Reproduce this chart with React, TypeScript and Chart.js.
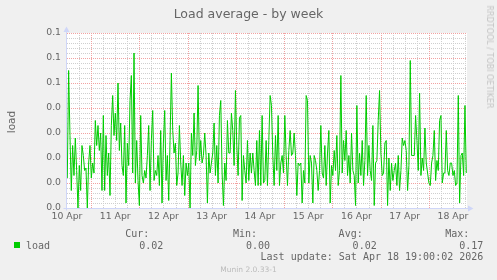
import React, { useEffect, useRef } from "react";
import { Chart, registerables } from "chart.js";

Chart.register(...registerables);

// ---------- text ----------
const TITLE = "Load average - by week";
const Y_AXIS_TITLE = "load";
const WATERMARK = "RRDTOOL / TOBI OETIKER";
const SERIES_NAME = "load";
const STAT_LABELS = ["Cur:", "Min:", "Avg:", "Max:"];
const STAT_VALUES = ["0.02", "0.00", "0.02", "0.17"];
const LAST_UPDATE = "Last update: Sat Apr 18 19:00:02 2026";
const FOOTER = "Munin 2.0.33-1";

// ---------- axes ----------
// x axis in hours since 10 Apr 00:00
const DAY_LABELS = ["10 Apr", "11 Apr", "12 Apr", "13 Apr", "14 Apr", "15 Apr", "16 Apr", "17 Apr", "18 Apr"];
const X_MIN_HOUR = 12;
const X_MAX_HOUR = 211;
const X_MINOR_STEP_HOURS = 6;
const X_MAJOR_STEP_HOURS = 24;
const FIRST_SAMPLE_HOUR = 12.15;
const LAST_SAMPLE_HOUR = 210.65;
const Y_MIN = 0;
const Y_MAX = 0.07;
const Y_MAJOR_STEP = 0.01;
const Y_MINOR_STEP = 0.002;
const Y_TICK_LABELS = ["0.0", "0.0", "0.0", "0.0", "0.0", "0.1", "0.1", "0.1"];

// ---------- data (load, regular samples) ----------
const LOAD_APR10_11 = [
  0.012, 0.055, 0.029, 0.007, 0.025, 0.013, 0.028, 0.015, 0.000, 0.017,
  0.007, 0.025, 0.021, 0.015, 0.016, 0.000, 0.018, 0.025, 0.012, 0.018,
  0.014, 0.035, 0.025, 0.033, 0.023, 0.030, 0.007, 0.037, 0.007, 0.029,
  0.013, 0.022, 0.005, 0.033, 0.045, 0.029, 0.038, 0.027, 0.050, 0.023,
  0.034, 0.017, 0.013, 0.033, 0.002, 0.026, 0.017, 0.043, 0.053, 0.014,
  0.062, 0.010, 0.027, 0.011, 0.001, 0.037,
];
const LOAD_APR12_13 = [
  0.013, 0.010, 0.015, 0.012, 0.021, 0.033, 0.007, 0.027, 0.039, 0.011,
  0.015, 0.013, 0.021, 0.009, 0.031, 0.002, 0.026, 0.039, 0.011, 0.021,
  0.003, 0.027, 0.054, 0.031, 0.022, 0.026, 0.009, 0.014, 0.033, 0.018,
  0.009, 0.021, 0.005, 0.018, 0.013, 0.018, 0.000, 0.030, 0.021, 0.038,
  0.017, 0.023, 0.049, 0.019, 0.027, 0.018, 0.021, 0.030, 0.021, 0.002,
  0.022, 0.014, 0.018, 0.022, 0.034, 0.013, 0.025, 0.010, 0.037,
];
const LOAD_APR13_15 = [
  0.043, 0.014, 0.001, 0.018, 0.011, 0.035, 0.022, 0.022, 0.038, 0.031,
  0.017, 0.047, 0.025, 0.013, 0.036, 0.037, 0.003, 0.021, 0.015, 0.010,
  0.027, 0.011, 0.022, 0.014, 0.022, 0.015, 0.009, 0.027, 0.009, 0.031,
  0.009, 0.037, 0.010, 0.011, 0.027, 0.009, 0.027, 0.045, 0.041, 0.021,
  0.009, 0.029, 0.015, 0.037, 0.009, 0.018, 0.021, 0.014, 0.037, 0.021,
  0.009, 0.023, 0.031, 0.021, 0.022, 0.030, 0.021, 0.005, 0.018, 0.017,
  0.018, 0.002, 0.015,
];
const LOAD_APR15_16 = [
  0.010, 0.045, 0.043, 0.010, 0.021, 0.018, 0.002, 0.021, 0.019, 0.015,
  0.007, 0.015, 0.033, 0.014, 0.012, 0.025, 0.009, 0.022, 0.031, 0.002,
  0.017, 0.013, 0.023, 0.015, 0.029, 0.009, 0.015, 0.053, 0.014, 0.027,
  0.019, 0.031, 0.013, 0.021, 0.010, 0.030, 0.015, 0.013, 0.001, 0.041,
  0.010, 0.022, 0.013, 0.027, 0.009, 0.019, 0.045, 0.013, 0.025, 0.015,
  0.011, 0.033, 0.001, 0.018, 0.019, 0.035, 0.047, 0.022, 0.013, 0.014,
  0.026,
];
const LOAD_APR17_18 = [
  0.027, 0.001, 0.020, 0.007, 0.018, 0.011, 0.015, 0.018, 0.009, 0.021,
  0.007, 0.015, 0.028, 0.025, 0.027, 0.023, 0.007, 0.017, 0.059, 0.021,
  0.021, 0.021, 0.037, 0.027, 0.015, 0.046, 0.013, 0.020, 0.015, 0.032,
  0.018, 0.014, 0.010, 0.009, 0.018, 0.021, 0.031, 0.011, 0.019, 0.015,
  0.035, 0.037, 0.010, 0.014, 0.014, 0.031, 0.015, 0.013, 0.018, 0.018,
  0.013, 0.015, 0.009, 0.010, 0.045, 0.002, 0.021, 0.022, 0.013, 0.041,
  0.014,
];
const LOAD = [...LOAD_APR10_11, ...LOAD_APR12_13, ...LOAD_APR13_15, ...LOAD_APR15_16, ...LOAD_APR17_18];

// ---------- styles ----------
const BACK = "#F0F0F0";
const CANVAS = "#FFFFFF";
const FONT_COLOR = "#666666";
const LINE_COLOR = "#00CC00";
const AXIS_COLOR = "#CFD6F8";
const GRID_MINOR = "#CFCFCF";
const GRID_MAJOR = "#F2A2A2";

const isMajorX = (v: number) => Math.round(v) % X_MAJOR_STEP_HOURS === 0;
const isMajorY = (v: number) =>
  Math.round(v / Y_MINOR_STEP) % Math.round(Y_MAJOR_STEP / Y_MINOR_STEP) === 0;

// rrdtool-like dotted grid, placed with the chart's own scales
const rrdGridPlugin = {
  id: "rrdGrid",
  beforeDraw(chart: any) {
    const { ctx, chartArea: a } = chart;
    ctx.save();
    ctx.fillStyle = CANVAS;
    ctx.fillRect(a.left, a.top, a.right - a.left, a.bottom - a.top);
    ctx.restore();
  },
  beforeDatasetsDraw(chart: any) {
    const { ctx, chartArea: a, scales } = chart;
    const L = Math.round(a.left), R = Math.round(a.right), T = Math.round(a.top), B = Math.round(a.bottom);
    ctx.save();
    const drawPass = (major: boolean) => {
      ctx.fillStyle = major ? GRID_MAJOR : GRID_MINOR;
      for (const t of scales.x.ticks) {
        if (isMajorX(t.value) !== major) continue;
        const px = Math.round(scales.x.getPixelForValue(t.value));
        if (px <= L) continue;
        for (let y = T; y < B; y += 2) ctx.fillRect(px, y, 1, 1);
      }
      for (const t of scales.y.ticks) {
        if (isMajorY(t.value) !== major) continue;
        const py = Math.round(scales.y.getPixelForValue(t.value));
        if (py >= B) continue;
        for (let x = L; x < R; x += 2) ctx.fillRect(x, py, 1, 1);
      }
    };
    drawPass(false);
    drawPass(true);
    ctx.restore();
  },
  afterDatasetsDraw(chart: any) {
    const { ctx, chartArea: a } = chart;
    ctx.save();
    ctx.strokeStyle = AXIS_COLOR;
    ctx.fillStyle = AXIS_COLOR;
    ctx.lineWidth = 1;
    const x = Math.round(a.left) - 0.5;
    const y = Math.round(a.bottom) + 0.5;
    ctx.beginPath();
    ctx.moveTo(x, y + 2);
    ctx.lineTo(x, a.top - 1);
    ctx.stroke();
    ctx.beginPath();
    ctx.moveTo(x - 3, a.top - 1);
    ctx.lineTo(x + 3, a.top - 1);
    ctx.lineTo(x, a.top - 6.5);
    ctx.closePath();
    ctx.fill();
    ctx.beginPath();
    ctx.moveTo(x - 3, y);
    ctx.lineTo(a.right + 1, y);
    ctx.stroke();
    ctx.beginPath();
    ctx.moveTo(a.right + 1, y - 3);
    ctx.lineTo(a.right + 1, y + 3);
    ctx.lineTo(a.right + 6.5, y);
    ctx.closePath();
    ctx.fill();
    ctx.restore();
  },
};

export default function App() {
  const ref = useRef<HTMLCanvasElement>(null);

  useEffect(() => {
    if (!ref.current) return;
    const step = (LAST_SAMPLE_HOUR - FIRST_SAMPLE_HOUR) / (LOAD.length - 1);
    const points = LOAD.map((v, i) => ({ x: FIRST_SAMPLE_HOUR + i * step, y: v }));
    const tickFont = { family: "'DejaVu Sans', sans-serif", size: 9.3 };

    const chart = new Chart(ref.current, {
      type: "line",
      data: {
        datasets: [
          {
            label: SERIES_NAME,
            data: points,
            borderColor: LINE_COLOR,
            borderWidth: 1,
            pointRadius: 0,
            fill: false,
            tension: 0,
          },
        ],
      },
      options: {
        responsive: false,
        animation: false,
        devicePixelRatio: 1,
        layout: { padding: { left: 0, top: 33, right: 30, bottom: 0 } },
        plugins: {
          legend: { display: false },
          title: { display: false },
          tooltip: { enabled: false },
        },
        scales: {
          x: {
            type: "linear",
            min: X_MIN_HOUR,
            max: X_MAX_HOUR,
            afterBuildTicks: (scale: any) => {
              const t: any[] = [];
              for (let h = X_MIN_HOUR; h <= X_MAX_HOUR; h += X_MINOR_STEP_HOURS) t.push({ value: h });
              scale.ticks = t;
            },
            afterFit: (scale: any) => {
              scale.height = 72;
            },
            grid: { display: false, drawTicks: false },
            border: { display: false },
            ticks: {
              autoSkip: false,
              maxRotation: 0,
              minRotation: 0,
              padding: 3,
              color: FONT_COLOR,
              font: tickFont,
              callback: (v: any) => {
                const h = Number(v);
                if ((h - 12) % 24 !== 0) return "";
                return DAY_LABELS[(h - 12) / 24] ?? "";
              },
            },
          },
          y: {
            type: "linear",
            min: Y_MIN,
            max: Y_MAX,
            afterBuildTicks: (scale: any) => {
              const t: any[] = [];
              const n = Math.round((Y_MAX - Y_MIN) / Y_MINOR_STEP);
              for (let i = 0; i <= n; i++) t.push({ value: Y_MIN + i * Y_MINOR_STEP });
              scale.ticks = t;
            },
            afterFit: (scale: any) => {
              scale.width = 67;
            },
            grid: { display: false, drawTicks: false },
            border: { display: false },
            ticks: {
              autoSkip: false,
              padding: 6,
              color: FONT_COLOR,
              font: tickFont,
              callback: (v: any) => {
                const k = Math.round(Number(v) / Y_MINOR_STEP);
                const per = Math.round(Y_MAJOR_STEP / Y_MINOR_STEP);
                if (k % per !== 0) return "";
                return Y_TICK_LABELS[k / per] ?? "";
              },
            },
          },
        },
      },
      plugins: [rrdGridPlugin],
    } as any);

    return () => chart.destroy();
  }, []);

  const mono: React.CSSProperties = {
    position: "absolute",
    fontFamily: "'DejaVu Sans Mono', monospace",
    fontSize: 10,
    lineHeight: "12px",
    color: FONT_COLOR,
    whiteSpace: "pre",
  };
  const statLabelRight = [149.3, 257, 362.7, 469.3];
  const statValueRight = [163.3, 270, 376.7, 483.3];

  return (
    <div
      style={{
        position: "fixed",
        left: 0,
        top: 0,
        width: 497,
        height: 280,
        background: BACK,
        overflow: "hidden",
        fontFamily: "'DejaVu Sans', sans-serif",
      }}
    >
      <canvas ref={ref} width={497} height={280} style={{ position: "absolute", left: 0, top: 0, display: "block" }} />
      <div
        style={{
          position: "absolute",
          left: 0,
          top: 8,
          width: 497,
          textAlign: "center",
          fontSize: 12.5,
          lineHeight: 1,
          color: FONT_COLOR,
          whiteSpace: "nowrap",
        }}
      >
        {TITLE}
      </div>
      <div
        style={{
          position: "absolute",
          left: 11,
          top: 122,
          transform: "translate(-50%, -50%) rotate(-90deg)",
          fontSize: 10.5,
          lineHeight: 1,
          color: FONT_COLOR,
          whiteSpace: "nowrap",
        }}
      >
        {Y_AXIS_TITLE}
      </div>
      <div
        style={{
          position: "absolute",
          left: 488.8,
          top: 56.5,
          transform: "translate(-50%, -50%) rotate(90deg)",
          fontSize: 8,
          lineHeight: 1,
          color: "#C4C4C4",
          whiteSpace: "nowrap",
        }}
      >
        {WATERMARK}
      </div>
      <div style={{ position: "absolute", left: 14, top: 242, width: 6, height: 6, background: LINE_COLOR }} />
      <div style={{ ...mono, left: 26, top: 239.8 }}>{SERIES_NAME}</div>
      {STAT_LABELS.map((s, i) => (
        <div key={"l" + i} style={{ ...mono, right: 497 - statLabelRight[i], top: 227.8 }}>
          {s}
        </div>
      ))}
      {STAT_VALUES.map((s, i) => (
        <div key={"v" + i} style={{ ...mono, right: 497 - statValueRight[i], top: 239.8 }}>
          {s}
        </div>
      ))}
      <div style={{ ...mono, right: 497 - 483.3, top: 251.2 }}>{LAST_UPDATE}</div>
      <div
        style={{
          position: "absolute",
          left: 0,
          width: 497,
          top: 266,
          textAlign: "center",
          fontSize: 7.5,
          lineHeight: 1,
          color: "#BBBBBB",
          whiteSpace: "nowrap",
        }}
      >
        {FOOTER}
      </div>
    </div>
  );
}
